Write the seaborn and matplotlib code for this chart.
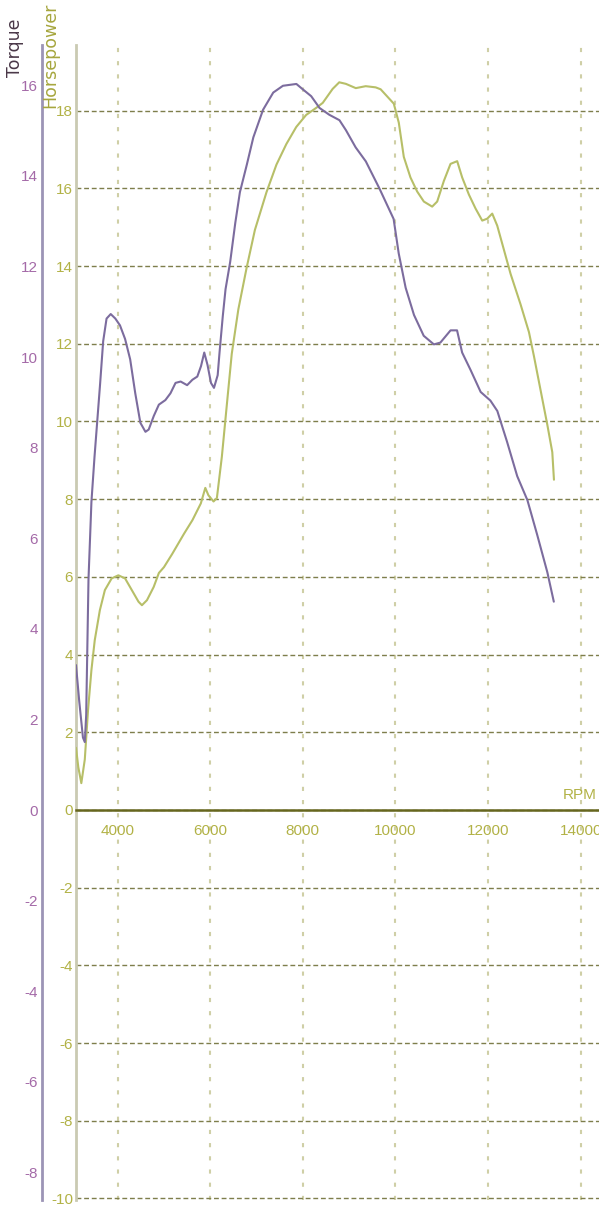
import matplotlib
matplotlib.use("Agg")
import matplotlib.pyplot as plt
import pandas as pd
import seaborn as sns
from matplotlib.ticker import FixedLocator, MultipleLocator

# ---- data ----
torque_rpm = [3100, 3170, 3250, 3290, 3320, 3345, 3370, 3433, 3500, 3560, 3620, 3687,
              3760, 3850, 3950, 4050, 4160, 4270, 4380, 4490, 4600, 4670, 4780, 4890,
              5030, 5140, 5250, 5360, 5500, 5615, 5720, 5800, 5870, 5940, 6015, 6080,
              6160, 6200, 6270, 6330, 6430, 6540, 6640, 6790, 6930, 7140, 7360, 7570,
              7860, 8000, 8180, 8360, 8570, 8790, 8930, 9140, 9360, 9650, 9960, 10070,
              10220, 10400, 10610, 10830, 10970, 11190, 11330, 11440, 11620, 11840,
              12050, 12200, 12410, 12630, 12850, 13060, 13280, 13420]
torque_val = [3.2, 2.4, 1.6, 1.5, 2.1, 3.6, 5.1, 6.8, 7.8, 8.6, 9.4, 10.35,
              10.85, 10.95, 10.85, 10.7, 10.4, 9.95, 9.2, 8.55, 8.35, 8.4, 8.7, 8.95,
              9.05, 9.2, 9.43, 9.46, 9.38, 9.5, 9.57, 9.8, 10.1, 9.83, 9.43, 9.32,
              9.6, 10.1, 10.9, 11.5, 12.1, 12.96, 13.64, 14.25, 14.85, 15.46, 15.84, 15.99,
              16.03, 15.91, 15.76, 15.5, 15.35, 15.23, 15.01, 14.63, 14.32, 13.73, 13.05, 12.29,
              11.53, 10.93, 10.47, 10.28, 10.32, 10.59, 10.59, 10.1, 9.72, 9.23,
              9.04, 8.81, 8.13, 7.37, 6.84, 6.08, 5.25, 4.6]

hp_rpm = [3100, 3150, 3215, 3290, 3360, 3433, 3505, 3615, 3724, 3870, 4015, 4160,
          4305, 4450, 4524, 4633, 4778, 4890, 5000, 5178, 5433, 5615, 5796, 5893,
          5960, 6071, 6143, 6250, 6357, 6464, 6607, 6786, 6964, 7214, 7429, 7643,
          7857, 8071, 8286, 8429, 8643, 8786, 8929, 9143, 9357, 9571, 9680, 9964,
          10072, 10180, 10324, 10468, 10613, 10793, 10901, 11045, 11189, 11333, 11441,
          11586, 11730, 11874, 11982, 12090, 12198, 12342, 12486, 12703, 12883, 12991,
          13135, 13279, 13387, 13423]
hp_val = [1.6, 1.1, 0.69, 1.3, 2.57, 3.6, 4.37, 5.14, 5.66, 5.96, 6.04, 5.96,
          5.66, 5.36, 5.27, 5.4, 5.74, 6.1, 6.25, 6.59, 7.11, 7.46, 7.89, 8.29,
          8.1, 7.94, 8.03, 9.09, 10.42, 11.74, 12.89, 13.96, 14.93, 15.9, 16.61, 17.14,
          17.58, 17.89, 18.07, 18.2, 18.56, 18.73, 18.69, 18.58, 18.63, 18.6, 18.55, 18.18,
          17.69, 16.81, 16.28, 15.92, 15.66, 15.53, 15.66, 16.19, 16.63, 16.7, 16.28,
          15.84, 15.48, 15.17, 15.22, 15.35, 15.04, 14.42, 13.8, 13.01, 12.3, 11.68,
          10.8, 9.92, 9.21, 8.5]

rpm_ticks = [4000, 6000, 8000, 10000, 12000, 14000]
hp_ticks = list(range(-10, 19, 2))
torque_ticks = list(range(-8, 17, 2))

# ---- style ----
sns.set_style("white")
plt.rcParams['font.family'] = ['Liberation Sans', 'DejaVu Sans']
plt.rcParams['lines.scale_dashes'] = False

PURPLE = "#7c6c9e"
YELLOW = "#b7bf68"
OLIVE_TXT = "#b2b246"
PURPLE_TXT = "#a46aa8"

W, H = 599, 1209
fig = plt.figure(figsize=(W / 100, H / 100), dpi=100)
ax = fig.add_axes([76 / W, 9 / H, (W - 76) / W, (1200 - 45) / H])
ax.set_xlim(3100, 14396)
ax.set_ylim(-10.04, 19.69)

ax2 = ax.twinx()
ax2.set_ylim(-8.61, 16.89)

df_hp = pd.DataFrame({"rpm": hp_rpm, "hp": hp_val})
df_tq = pd.DataFrame({"rpm": torque_rpm, "torque": torque_val})

sns.lineplot(data=df_hp, x="rpm", y="hp", ax=ax, color=YELLOW, lw=1.5,
             sort=False, estimator=None, zorder=3)
sns.lineplot(data=df_tq, x="rpm", y="torque", ax=ax2, color=PURPLE, lw=1.5,
             sort=False, estimator=None, zorder=3)

for a in (ax, ax2):
    a.set_xlabel("")
    a.set_ylabel("")

# ---- HP axis (main) ----
ax.set_axisbelow(True)
for s in ("top", "right"):
    ax.spines[s].set_visible(False)
ax.spines["left"].set_color("#cacab2")
ax.spines["left"].set_linewidth(2)
ax.spines["bottom"].set_position(("data", 0))
ax.spines["bottom"].set_color("#66661e")
ax.spines["bottom"].set_linewidth(1.8)

ax.yaxis.set_major_locator(FixedLocator(hp_ticks))
ax.set_yticklabels([str(v) for v in hp_ticks])
ax.tick_params(axis="y", length=0, pad=2, labelsize=11, labelcolor=OLIVE_TXT)

ax.xaxis.set_major_locator(FixedLocator(rpm_ticks))
ax.xaxis.set_minor_locator(MultipleLocator(400))
ax.set_xticklabels([str(v) for v in rpm_ticks])
ax.tick_params(axis="x", which="major", direction="out", length=7, width=1,
               color="#a8a880", pad=3, labelsize=11, labelcolor=OLIVE_TXT)
ax.tick_params(axis="x", which="minor", direction="out", length=3, width=1,
               color="#b8b890")

ax.grid(axis="x", which="major", color="#cfcfa6", lw=1.5, ls=(0, (3, 6.5)))
ax.grid(axis="y", which="major", color="#7e7e4c", lw=1.0, ls=(0, (3.5, 2)))

ax.text(0.995, 0.2, "RPM", transform=ax.get_yaxis_transform(), ha="right",
        va="bottom", fontsize=11, color=OLIVE_TXT)

# ---- Torque axis (outer left) ----
for s in ("top", "right", "bottom"):
    ax2.spines[s].set_visible(False)
ax2.spines["left"].set_visible(True)
ax2.spines["left"].set_position(("outward", 34 * 0.72))
ax2.spines["left"].set_color("#9c94b6")
ax2.spines["left"].set_linewidth(2)
ax2.yaxis.tick_left()
ax2.yaxis.set_label_position("left")
ax2.yaxis.set_major_locator(FixedLocator(torque_ticks))
ax2.set_yticklabels([str(v) for v in torque_ticks])
ax2.tick_params(axis="y", length=0, pad=3, labelsize=11, labelcolor=PURPLE_TXT)

# ---- axis titles ----
fig.text(15 / W, 1 - 48 / H, "Torque", rotation=90, ha="center", va="center",
         fontsize=12.5, color="#4a3848", family="DejaVu Sans")
fig.text(50 / W, 1 - 55 / H, "Horsepower", rotation=90, ha="center", va="center",
         fontsize=12.5, color="#a6a63e", family="DejaVu Sans")

fig.savefig("out.png", dpi=100)
